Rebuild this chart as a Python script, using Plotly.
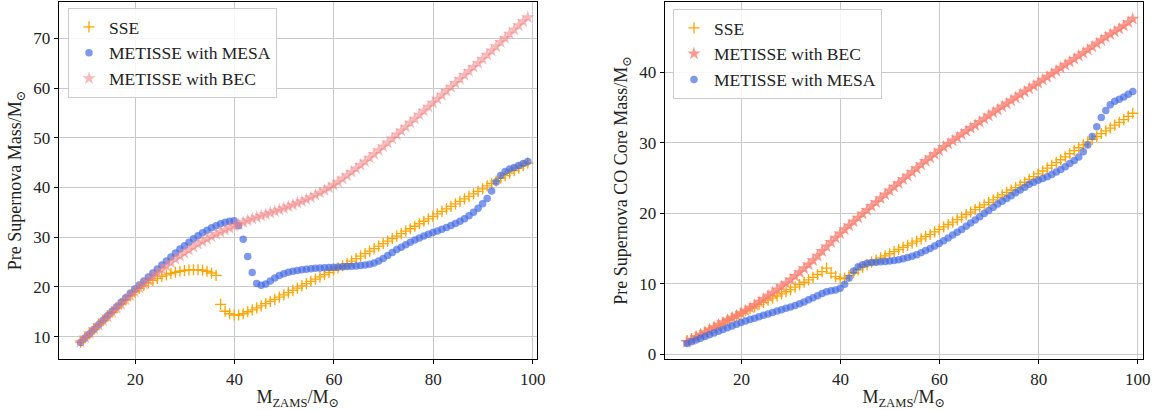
import plotly.graph_objects as go

# ZAMS masses (M_sun), same grid for all series
mzams = [9.00, 9.91, 10.82, 11.73, 12.64, 13.55, 14.45, 15.36, 16.27, 17.18,
         18.09, 19.00, 19.91, 20.82, 21.73, 22.64, 23.55, 24.45, 25.36, 26.27,
         27.18, 28.09, 29.00, 29.91, 30.82, 31.73, 32.64, 33.55, 34.45, 35.36,
         36.27, 37.18, 38.09, 39.00, 39.91, 40.82, 41.73, 42.64, 43.55, 44.45,
         45.36, 46.27, 47.18, 48.09, 49.00, 49.91, 50.82, 51.73, 52.64, 53.55,
         54.45, 55.36, 56.27, 57.18, 58.09, 59.00, 59.91, 60.82, 61.73, 62.64,
         63.55, 64.45, 65.36, 66.27, 67.18, 68.09, 69.00, 69.91, 70.82, 71.73,
         72.64, 73.55, 74.45, 75.36, 76.27, 77.18, 78.09, 79.00, 79.91, 80.82,
         81.73, 82.64, 83.55, 84.45, 85.36, 86.27, 87.18, 88.09, 89.00, 89.91,
         90.82, 91.73, 92.64, 93.55, 94.45, 95.36, 96.27, 97.18, 98.09, 99.00]

# Left panel: pre-supernova mass
mass_sse = [8.9, 9.8, 10.6, 11.5, 12.4, 13.2, 14.1, 14.9, 15.8, 16.6,
            17.4, 18.2, 19.0, 19.7, 20.3, 20.8, 21.3, 21.7, 22.1, 22.4,
            22.7, 22.95, 23.15, 23.3, 23.4, 23.45, 23.45, 23.35, 23.15, 22.8,
            22.3, 16.5, 15.1, 14.6, 14.35, 14.35, 14.6, 15.0, 15.4, 15.8,
            16.2, 16.65, 17.1, 17.5, 17.95, 18.4, 18.85, 19.3, 19.75, 20.2,
            20.65, 21.1, 21.55, 22.0, 22.45, 22.9, 23.35, 23.8, 24.25, 24.7,
            25.2, 25.7, 26.2, 26.7, 27.2, 27.7, 28.2, 28.7, 29.2, 29.7,
            30.2, 30.7, 31.2, 31.7, 32.2, 32.7, 33.2, 33.7, 34.2, 34.7,
            35.2, 35.7, 36.2, 36.7, 37.2, 37.7, 38.2, 38.7, 39.2, 39.7,
            40.3, 40.8, 41.3, 41.9, 42.4, 42.9, 43.4, 43.9, 44.4, 44.9]
mass_mesa = [8.8, 9.7, 10.6, 11.5, 12.4, 13.3, 14.2, 15.1, 16.0, 16.9,
             17.8, 18.7, 19.6, 20.4, 21.2, 22.0, 22.8, 23.6, 24.4, 25.2,
             26.0, 26.8, 27.6, 28.3, 29.0, 29.7, 30.3, 30.9, 31.4, 31.9,
             32.3, 32.7, 33.0, 33.2, 33.3, 32.3, 29.6, 26.1, 22.9, 20.7,
             20.35, 20.6, 21.2, 21.8, 22.3, 22.65, 22.95, 23.15, 23.3, 23.45,
             23.55, 23.65, 23.75, 23.8, 23.85, 23.9, 23.95, 24.0, 24.05, 24.1,
             24.15, 24.2, 24.3, 24.4, 24.55, 24.8, 25.2, 25.7, 26.3, 26.9,
             27.5, 28.0, 28.5, 29.0, 29.45, 29.85, 30.25, 30.6, 30.95, 31.25,
             31.6, 31.95, 32.35, 32.75, 33.2, 33.7, 34.3, 35.0, 35.8, 36.7,
             37.8, 39.3, 41.1, 42.4, 43.2, 43.7, 44.0, 44.4, 44.8, 45.2]
mass_bec = [8.9, 9.8, 10.6, 11.5, 12.3, 13.2, 14.0, 14.9, 15.7, 16.5,
            17.4, 18.2, 19.0, 19.8, 20.6, 21.3, 22.1, 22.8, 23.5, 24.2,
            24.9, 25.6, 26.2, 26.8, 27.4, 28.0, 28.6, 29.1, 29.6, 30.1,
            30.6, 31.0, 31.45, 31.85, 32.25, 32.6, 33.0, 33.35, 33.7, 34.0,
            34.3, 34.6, 34.9, 35.2, 35.5, 35.8, 36.15, 36.5, 36.85, 37.2,
            37.6, 38.0, 38.45, 38.9, 39.4, 39.95, 40.5, 41.1, 41.75, 42.4,
            43.1, 43.8, 44.5, 45.2, 45.95, 46.7, 47.45, 48.2, 49.0, 49.8,
            50.6, 51.4, 52.2, 53.0, 53.8, 54.6, 55.4, 56.2, 57.0, 57.8,
            58.6, 59.4, 60.2, 61.0, 61.8, 62.6, 63.4, 64.2, 65.0, 65.8,
            66.65, 67.5, 68.35, 69.2, 70.05, 70.9, 71.75, 72.6, 73.4, 74.2]

# Right panel: pre-supernova CO core mass
co_sse = [1.9, 2.2, 2.5, 2.8, 3.1, 3.5, 3.8, 4.1, 4.4, 4.8,
          5.1, 5.45, 5.8, 6.15, 6.45, 6.75, 7.05, 7.35, 7.65, 7.95,
          8.25, 8.55, 8.85, 9.15, 9.5, 9.85, 10.2, 10.55, 10.9, 11.3,
          11.7, 12.2, 11.5, 11.0, 10.7, 10.8, 11.15, 11.55, 11.95, 12.35,
          12.7, 13.05, 13.35, 13.65, 13.95, 14.25, 14.55, 14.85, 15.15, 15.45,
          15.75, 16.05, 16.35, 16.7, 17.0, 17.35, 17.7, 18.05, 18.4, 18.75,
          19.1, 19.45, 19.8, 20.15, 20.5, 20.85, 21.2, 21.55, 21.9, 22.25,
          22.6, 22.95, 23.3, 23.65, 24.0, 24.4, 24.8, 25.2, 25.6, 26.0,
          26.4, 26.8, 27.2, 27.6, 28.0, 28.45, 28.9, 29.3, 29.7, 30.1,
          30.5, 30.9, 31.3, 31.7, 32.1, 32.5, 32.9, 33.3, 33.75, 34.2]
co_bec = [1.7, 2.05, 2.4, 2.75, 3.1, 3.45, 3.8, 4.15, 4.5, 4.85,
          5.15, 5.45, 5.8, 6.15, 6.55, 6.95, 7.4, 7.8, 8.25, 8.7,
          9.15, 9.6, 10.05, 10.55, 11.05, 11.6, 12.15, 12.7, 13.3, 13.95,
          14.6, 15.25, 15.9, 16.5, 17.1, 17.7, 18.25, 18.8, 19.35, 19.9,
          20.45, 21.0, 21.55, 22.1, 22.65, 23.2, 23.75, 24.25, 24.8, 25.3,
          25.85, 26.35, 26.9, 27.4, 27.9, 28.4, 28.9, 29.4, 29.85, 30.3,
          30.75, 31.2, 31.65, 32.1, 32.5, 32.95, 33.4, 33.85, 34.3, 34.7,
          35.15, 35.55, 36.0, 36.4, 36.85, 37.25, 37.7, 38.1, 38.5, 38.95,
          39.35, 39.8, 40.2, 40.65, 41.05, 41.5, 41.9, 42.35, 42.75, 43.2,
          43.65, 44.1, 44.55, 45.0, 45.4, 45.8, 46.2, 46.6, 47.1, 47.6]
co_mesa = [1.5, 1.75, 2.0, 2.25, 2.5, 2.75, 3.0, 3.25, 3.5, 3.75,
           4.0, 4.25, 4.5, 4.7, 4.9, 5.1, 5.3, 5.5, 5.7, 5.9,
           6.1, 6.3, 6.5, 6.7, 6.9, 7.15, 7.4, 7.7, 8.0, 8.3,
           8.6, 8.85, 9.0, 9.1, 9.35, 9.9, 10.8, 11.8, 12.4, 12.7,
           12.9, 13.0, 13.05, 13.1, 13.15, 13.2, 13.3, 13.4, 13.55, 13.7,
           13.9, 14.1, 14.4, 14.7, 15.0, 15.35, 15.7, 16.1, 16.5, 16.9,
           17.3, 17.7, 18.15, 18.6, 19.05, 19.5, 19.95, 20.4, 20.85, 21.3,
           21.7, 22.1, 22.5, 22.9, 23.3, 23.7, 24.1, 24.4, 24.7, 24.95,
           25.2, 25.5, 25.85, 26.2, 26.6, 27.05, 27.5, 28.0, 28.75, 29.7,
           30.9, 32.3, 33.6, 34.6, 35.4, 35.9, 36.2, 36.5, 36.9, 37.3]

FONT = "Liberation Serif, DejaVu Serif, serif"
TXT = "#222222"
ORANGE = "#FFA500"
BLUE = "rgba(65,105,225,0.68)"
PINK_L = "rgba(240,128,128,0.55)"
PINK_R = "rgba(250,128,114,0.8)"


def sse_trace(y, xa, ya, leg):
    return go.Scatter(x=mzams, y=y, mode="markers", name="SSE", xaxis=xa, yaxis=ya, legend=leg,
                      marker=dict(symbol="cross-thin", size=8, color=ORANGE,
                                  line=dict(color=ORANGE, width=1.3)))


def mesa_trace(y, xa, ya, leg):
    return go.Scatter(x=mzams, y=y, mode="markers", name="METISSE with MESA", xaxis=xa, yaxis=ya,
                      legend=leg, marker=dict(symbol="circle", size=7.5, color=BLUE, line=dict(width=0)))


def bec_trace(y, xa, ya, leg, col):
    return go.Scatter(x=mzams, y=y, mode="markers", name="METISSE with BEC", xaxis=xa, yaxis=ya,
                      legend=leg, marker=dict(symbol="star", size=10, color=col, line=dict(width=0)))


fig = go.Figure()
fig.add_trace(sse_trace(mass_sse, "x", "y", "legend"))
fig.add_trace(mesa_trace(mass_mesa, "x", "y", "legend"))
fig.add_trace(bec_trace(mass_bec, "x", "y", "legend", PINK_L))
fig.add_trace(sse_trace(co_sse, "x2", "y2", "legend2"))
fig.add_trace(bec_trace(co_bec, "x2", "y2", "legend2", PINK_R))
fig.add_trace(mesa_trace(co_mesa, "x2", "y2", "legend2"))

W, H = 1157, 410
common_x = dict(showline=True, linecolor="black", linewidth=1.3, mirror=True,
                ticks="outside", ticklen=4, tickwidth=1, tickcolor="black",
                showgrid=True, gridcolor="#c9c9c9", gridwidth=1, zeroline=False,
                tickvals=[20, 40, 60, 80, 100], automargin=False,
                tickfont=dict(family=FONT, size=17, color=TXT),
                title=dict(text="M<sub>ZAMS</sub>/M<sub>⊙</sub>", standoff=2,
                           font=dict(family=FONT, size=18, color=TXT)))
common_y = dict(showline=True, linecolor="black", linewidth=1.3, mirror=True,
                ticks="outside", ticklen=4, tickwidth=1, tickcolor="black",
                showgrid=True, gridcolor="#c9c9c9", gridwidth=1, zeroline=False,
                automargin=False,
                tickfont=dict(family=FONT, size=17, color=TXT))

ydom = [51 / H, 408 / H]
leg_common = dict(xanchor="left", yanchor="top",
                  bgcolor="rgba(255,255,255,0.85)", bordercolor="#cccccc", borderwidth=1,
                  font=dict(family=FONT, size=17.5, color=TXT), tracegroupgap=0,
                  itemwidth=30)
fig.update_layout(
    template="none",
    width=W, height=H,
    margin=dict(l=0, r=0, t=0, b=0),
    paper_bgcolor="white", plot_bgcolor="white",
    font=dict(family=FONT, size=17, color=TXT),
    xaxis=dict(common_x, domain=[58.7 / W, 536.7 / W], range=[4.6, 100.8], anchor="y"),
    yaxis=dict(common_y, domain=ydom, range=[5.5, 77.3], anchor="x",
               tickvals=[10, 20, 30, 40, 50, 60, 70],
               title=dict(text="Pre Supernova Mass/M<sub>⊙</sub>", standoff=6,
                          font=dict(family=FONT, size=18, color=TXT))),
    xaxis2=dict(common_x, domain=[664.7 / W, 1142.7 / W], range=[4.5, 101.0], anchor="y2"),
    yaxis2=dict(common_y, domain=ydom, range=[-0.7, 50.0], anchor="x2",
                tickvals=[0, 10, 20, 30, 40],
                title=dict(text="Pre Supernova CO Core Mass/M<sub>⊙</sub>", standoff=6,
                           font=dict(family=FONT, size=18, color=TXT))),
    legend=dict(leg_common, x=68 / W, y=1 - 8 / H),
    legend2=dict(leg_common, x=673 / W, y=1 - 9 / H),
    showlegend=True,
)

fig.write_html("out.html", config={"displayModeBar": False},
               post_script="document.body.style.margin='0';document.body.style.overflow='hidden';")
